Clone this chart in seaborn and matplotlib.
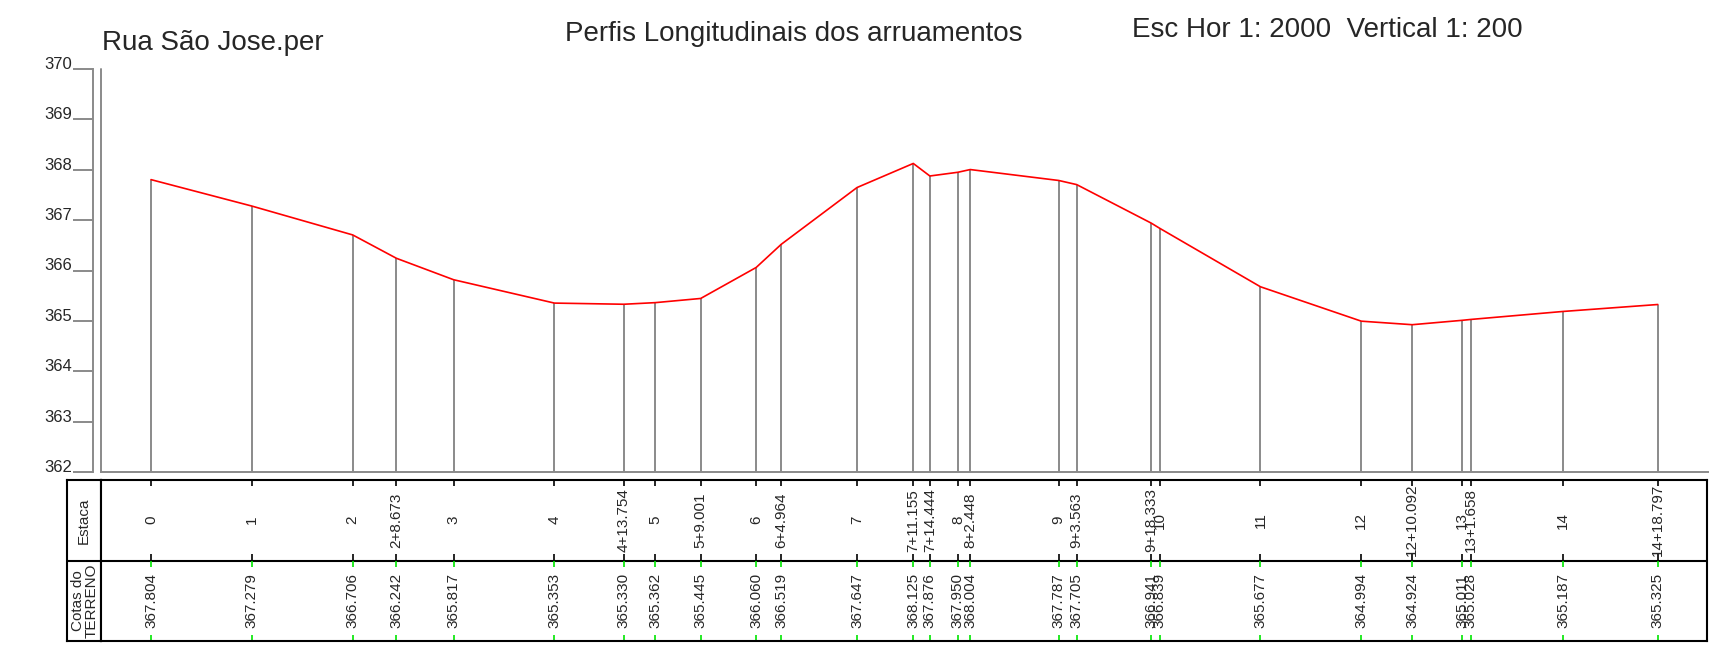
import pandas as pd
import seaborn as sns
import matplotlib.pyplot as plt

# dados do perfil
estacas = ['0', '1', '2', '2+8.673', '3', '4', '4+13.754', '5', '5+9.001', '6',
           '6+4.964', '7', '7+11.155', '7+14.444', '8', '8+2.448', '9', '9+3.563',
           '9+18.333', '10', '11', '12', '12+10.092', '13', '13+1.658', '14', '14+18.797']
distancias = [0, 20, 40, 48.673, 60, 80, 93.754, 100, 109.001, 120,
              124.964, 140, 151.155, 154.444, 160, 162.448, 180, 183.563,
              198.333, 200, 220, 240, 250.092, 260, 261.658, 280, 298.797]
cotas = [367.804, 367.279, 366.706, 366.242, 365.817, 365.353, 365.330, 365.362, 365.445, 366.060,
         366.519, 367.647, 368.125, 367.876, 367.950, 368.004, 367.787, 367.705,
         366.941, 366.839, 365.677, 364.994, 364.924, 365.011, 365.028, 365.187, 365.325]
cota_ticks = [362, 363, 364, 365, 366, 367, 368, 369, 370]

W, H = 1717, 653
PX0, PXM = 151, 5.043   # pixel da estaca 0, pixels por metro
GRAY = '#8a8a8a'
GREEN = '#00e600'


def box(l, t, r, b):
    return [l / W, 1 - b / H, (r - l) / W, (b - t) / H]


def px2m(p):
    return (p - PX0) / PXM


def main():
    df = pd.DataFrame({'Estaca': estacas, 'Dist': distancias, 'Cota': cotas})

    sns.set_style('white')
    plt.rcParams['font.family'] = ['Liberation Sans', 'DejaVu Sans']

    fig = plt.figure(figsize=(W / 100, H / 100), dpi=100)

    # perfil
    ax = fig.add_axes(box(100.7, 69, 1708, 472))
    ax.vlines(df['Dist'], cota_ticks[0], df['Cota'], color=GRAY, lw=1.4)
    sns.lineplot(x='Dist', y='Cota', data=df, color='red', lw=1.2,
                 sort=False, estimator=None, ax=ax)
    ax.set_xlim(px2m(100.7), px2m(1708))
    ax.set_ylim(cota_ticks[0], cota_ticks[-1])
    ax.set_xlabel('')
    ax.set_ylabel('')
    ax.set_xticks([])
    ax.set_yticks(cota_ticks)
    ax.set_yticklabels([str(v) for v in cota_ticks])
    for s in ['top', 'right']:
        ax.spines[s].set_visible(False)
    ax.spines['bottom'].set_color(GRAY)
    ax.spines['bottom'].set_linewidth(1.4)
    ax.spines['left'].set_color(GRAY)
    ax.spines['left'].set_linewidth(1.4)
    ax.spines['left'].set_position(('outward', 5.2))
    ax.plot([0, 0], [0, 1], transform=ax.transAxes, color=GRAY, lw=1.4, clip_on=False)
    ax.tick_params(axis='y', direction='out', length=14.4, width=1.4, color=GRAY,
                   pad=0.8, labelsize=12, left=True)
    for lab in ax.get_yticklabels():
        lab.set_va('baseline')

    # tabela
    ax_l = fig.add_axes(box(67, 480, 101, 641))
    ax_t = fig.add_axes(box(101, 480, 1707, 641))
    for a in (ax_l, ax_t):
        a.set_xticks([])
        a.set_yticks([])
        for s in a.spines.values():
            s.set_color('black')
            s.set_linewidth(1.5)
        a.axhline(1 if a is ax_t else 0.5, color='black', lw=1.5)
    ax_l.set_xlim(0, 1)
    ax_l.set_ylim(0, 1)
    ax_t.set_xlim(px2m(101), px2m(1707))
    ax_t.set_ylim(0, 2)

    ax_l.text(0.5, 0.75, 'Estaca', rotation=90, ha='center', va='center', fontsize=11)
    ax_l.text(0.52, 0.25, 'Cotas do\nTERRENO', rotation=90, ha='center', va='center',
              fontsize=11, linespacing=0.9, multialignment='center')

    tk = 0.075
    ax_t.vlines(df['Dist'], 2 - tk, 2, color='black', lw=1.2)
    ax_t.vlines(df['Dist'], 1, 1 + tk, color='black', lw=1.2)
    ax_t.vlines(df['Dist'], 1 - tk, 1, color=GREEN, lw=1.2)
    ax_t.vlines(df['Dist'], 0, tk, color=GREEN, lw=1.2)
    for d, e, c in zip(df['Dist'], df['Estaca'], df['Cota']):
        ax_t.text(d, 1.5, e, rotation=90, ha='center', va='center', fontsize=11)
        ax_t.text(d, 0.5, f'{c:.3f}', rotation=90, ha='center', va='center', fontsize=11)

    # titulos
    fig.text(102 / W, 1 - 50 / H, 'Rua São Jose.per', fontsize=20, va='baseline')
    fig.text(565 / W, 1 - 41 / H, 'Perfis Longitudinais dos arruamentos', fontsize=20, va='baseline')
    fig.text(1132 / W, 1 - 37 / H, 'Esc Hor 1: 2000  Vertical 1: 200', fontsize=20, va='baseline')

    fig.savefig('out.png', dpi=100)


if __name__ == "__main__":
    main()
